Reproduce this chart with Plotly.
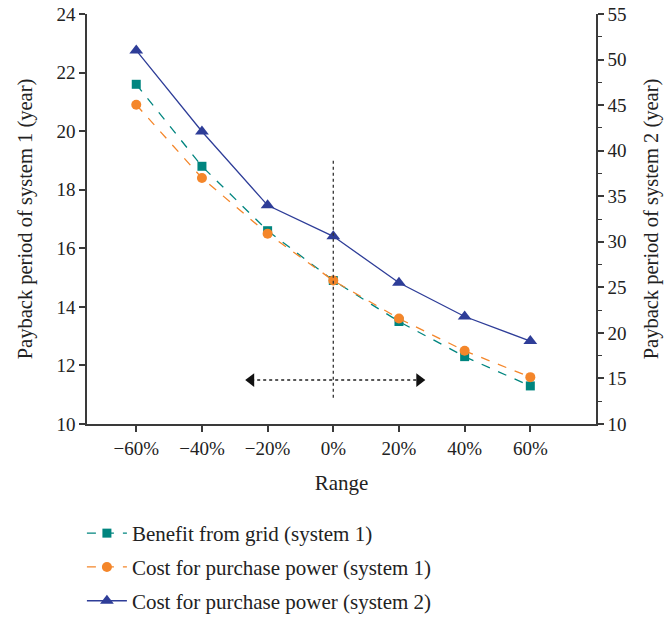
import plotly.graph_objects as go

# Sensitivity range of the input parameter (%)
range_pct = [-60, -40, -20, 0, 20, 40, 60]
range_labels = ["\u221260%", "\u221240%", "\u221220%", "0%", "20%", "40%", "60%"]

# Payback periods (years)
benefit_grid_sys1 = [21.6, 18.8, 16.6, 14.9, 13.5, 12.3, 11.3]
purchase_cost_sys1 = [20.9, 18.4, 16.5, 14.9, 13.6, 12.5, 11.6]
purchase_cost_sys2 = [51.0, 42.1, 34.0, 30.6, 25.5, 21.8, 19.1]

left_ticks = [10, 12, 14, 16, 18, 20, 22, 24]
right_ticks = [10, 15, 20, 25, 30, 35, 40, 45, 50, 55]

TEAL = "#00857f"
ORANGE = "#f4862a"
BLUE = "#2e3d98"
AXIS = "#3a3a3a"
FONT = "Liberation Serif"
FS_TICK = 19
FS_TEXT = 21

fig = go.Figure()

fig.add_trace(go.Scatter(
    x=range_pct, y=benefit_grid_sys1, name="Benefit from grid (system 1)",
    mode="lines+markers", legendgroup="a",
    line=dict(color=TEAL, width=1.3, dash="dash"),
    marker=dict(symbol="square", size=9, color=TEAL),
))
fig.add_trace(go.Scatter(
    x=range_pct, y=purchase_cost_sys1, name="Cost for purchase power (system 1)",
    mode="lines+markers", legendgroup="b",
    line=dict(color=ORANGE, width=1.3, dash="dash"),
    marker=dict(symbol="circle", size=10, color=ORANGE),
))
fig.add_trace(go.Scatter(
    x=range_pct, y=purchase_cost_sys2, name="Cost for purchase power (system 2)",
    mode="lines+markers", legendgroup="c", yaxis="y2",
    line=dict(color=BLUE, width=1.3),
    marker=dict(symbol="triangle-up", size=12, color=BLUE),
))

# Double-headed dotted arrow marking the variation span
fig.add_trace(go.Scatter(
    x=[-25, 26.2], y=[11.5, 11.5], mode="lines+markers", showlegend=False,
    hoverinfo="skip",
    line=dict(color="#222222", width=1.4, dash="dot"),
    marker=dict(symbol=["triangle-left", "triangle-right"], size=12, color="#111111"),
))

# Vertical dotted reference line at 0%
fig.add_shape(type="line", x0=0, x1=0, y0=10.9, y1=19.0, xref="x", yref="y",
              line=dict(color="#333333", width=1.3, dash="dot"))

axis_common = dict(
    showgrid=False, zeroline=False, showline=True, linecolor=AXIS, linewidth=1.5,
    ticks="outside", tickcolor=AXIS, tickwidth=1.5, ticklen=6, automargin=False,
    tickfont=dict(family=FONT, size=FS_TICK, color="#222222"),
)

fig.update_layout(
    width=667, height=620,
    margin=dict(l=87, r=71, t=14, b=196),
    paper_bgcolor="white", plot_bgcolor="white",
    font=dict(family=FONT, size=FS_TICK, color="#222222"),
    xaxis=dict(
        **axis_common, range=[-75, 80], tickvals=range_pct, ticktext=range_labels,
        title=dict(text="Range", standoff=18, font=dict(family=FONT, size=FS_TEXT)),
    ),
    yaxis=dict(
        **axis_common, range=[10, 24], tickvals=left_ticks,
        title=dict(text="Payback period of system 1 (year)", standoff=18,
                   font=dict(family=FONT, size=20.5)),
    ),
    yaxis2=dict(
        **axis_common, range=[10, 55], tickvals=right_ticks, overlaying="y", side="right",
        minor=dict(dtick=2.5, tick0=10, ticks="outside", ticklen=4, tickcolor=AXIS, tickwidth=1.2),
        title=dict(text="Payback period of system 2 (year)", standoff=18,
                   font=dict(family=FONT, size=20.5)),
    ),
    legend=dict(
        x=-0.01, xref="paper", xanchor="left",
        y=0.1726, yref="container", yanchor="top",
        font=dict(family=FONT, size=FS_TEXT, color="#222222"),
        tracegroupgap=3.5, traceorder="grouped", itemwidth=40,
        bgcolor="rgba(0,0,0,0)",
    ),
)

fig.write_html("out.html")
